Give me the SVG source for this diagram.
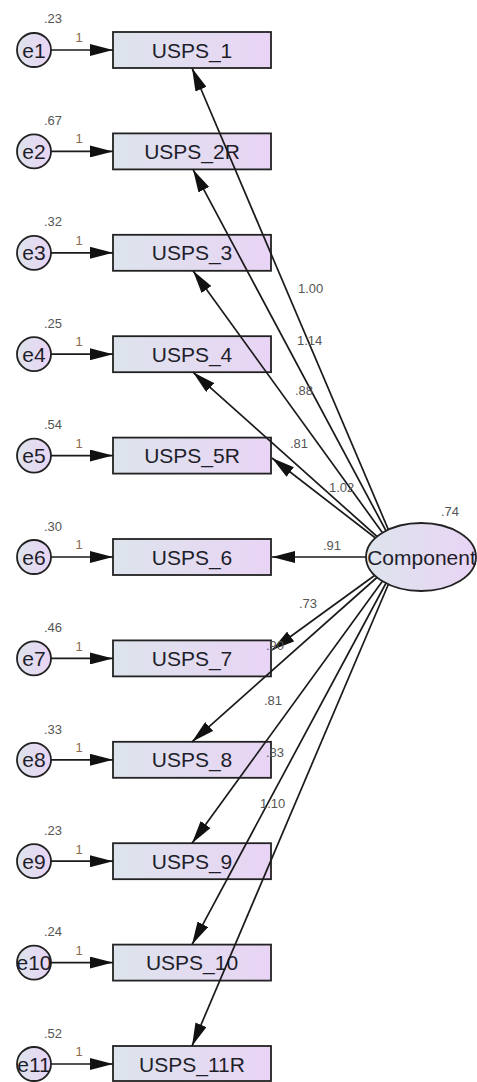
<svg xmlns="http://www.w3.org/2000/svg" width="477" height="1082" viewBox="0 0 477 1082">
<defs>
<linearGradient id="gb" x1="0" y1="0" x2="1" y2="0"><stop offset="0" stop-color="#dde4ec"/><stop offset="1" stop-color="#e9d4f5"/></linearGradient>
<marker id="ah" markerUnits="userSpaceOnUse" markerWidth="23" markerHeight="12" refX="23" refY="6" orient="auto"><path d="M0,0 L23,6 L0,12 z" fill="#111"/></marker>
</defs>
<style>
.box{fill:url(#gb);stroke:#222;stroke-width:1.8}
.err{fill:url(#gb);stroke:#222;stroke-width:1.8}
.lbl{font-family:"Liberation Sans",Arial,sans-serif;font-size:21px;fill:#1e1e2a;text-anchor:middle}
.num{font-family:"Liberation Sans",Arial,sans-serif;font-size:13px;fill:#555}
.one{font-family:"Liberation Sans",Arial,sans-serif;font-size:13px;fill:#8a6a50;text-anchor:middle}
.ln{stroke:#1a1a1a;stroke-width:1.7;fill:none;marker-end:url(#ah)}
</style>
<rect width="477" height="1082" fill="#fff"/>
<g id="e1"><circle class="err" cx="34" cy="50" r="17"/><text class="lbl" x="34" y="57.5">e1</text></g>
<g id="e2"><circle class="err" cx="34" cy="151.4" r="17"/><text class="lbl" x="34" y="158.9">e2</text></g>
<g id="e3"><circle class="err" cx="34" cy="252.8" r="17"/><text class="lbl" x="34" y="260.3">e3</text></g>
<g id="e4"><circle class="err" cx="34" cy="354.2" r="17"/><text class="lbl" x="34" y="361.7">e4</text></g>
<g id="e5"><circle class="err" cx="34" cy="455.6" r="17"/><text class="lbl" x="34" y="463.1">e5</text></g>
<g id="e6"><circle class="err" cx="34" cy="557" r="17"/><text class="lbl" x="34" y="564.5">e6</text></g>
<g id="e7"><circle class="err" cx="34" cy="658.4" r="17"/><text class="lbl" x="34" y="665.9">e7</text></g>
<g id="e8"><circle class="err" cx="34" cy="759.8" r="17"/><text class="lbl" x="34" y="767.3">e8</text></g>
<g id="e9"><circle class="err" cx="34" cy="861.2" r="17"/><text class="lbl" x="34" y="868.7">e9</text></g>
<g id="e10"><circle class="err" cx="34" cy="962.6" r="17"/><text class="lbl" x="34" y="970.1">e10</text></g>
<g id="e11"><circle class="err" cx="34" cy="1064" r="17"/><text class="lbl" x="34" y="1071.5">e11</text></g>
<g id="USPS_1"><rect class="box" x="113" y="32" width="158" height="36"/><text class="lbl" x="192" y="57.5">USPS_1</text></g>
<g id="USPS_2R"><rect class="box" x="113" y="133.4" width="158" height="36"/><text class="lbl" x="192" y="158.9">USPS_2R</text></g>
<g id="USPS_3"><rect class="box" x="113" y="234.8" width="158" height="36"/><text class="lbl" x="192" y="260.3">USPS_3</text></g>
<g id="USPS_4"><rect class="box" x="113" y="336.2" width="158" height="36"/><text class="lbl" x="192" y="361.7">USPS_4</text></g>
<g id="USPS_5R"><rect class="box" x="113" y="437.6" width="158" height="36"/><text class="lbl" x="192" y="463.1">USPS_5R</text></g>
<g id="USPS_6"><rect class="box" x="113" y="539" width="158" height="36"/><text class="lbl" x="192" y="564.5">USPS_6</text></g>
<g id="USPS_7"><rect class="box" x="113" y="640.4" width="158" height="36"/><text class="lbl" x="192" y="665.9">USPS_7</text></g>
<g id="USPS_8"><rect class="box" x="113" y="741.8" width="158" height="36"/><text class="lbl" x="192" y="767.3">USPS_8</text></g>
<g id="USPS_9"><rect class="box" x="113" y="843.2" width="158" height="36"/><text class="lbl" x="192" y="868.7">USPS_9</text></g>
<g id="USPS_10"><rect class="box" x="113" y="944.6" width="158" height="36"/><text class="lbl" x="192" y="970.1">USPS_10</text></g>
<g id="USPS_11R"><rect class="box" x="113" y="1046" width="158" height="35"/><text class="lbl" x="192" y="1071.5">USPS_11R</text></g>
<g id="connectors">
<line class="ln" x1="51" y1="50" x2="113" y2="50"/>
<line class="ln" x1="51" y1="151.4" x2="113" y2="151.4"/>
<line class="ln" x1="51" y1="252.8" x2="113" y2="252.8"/>
<line class="ln" x1="51" y1="354.2" x2="113" y2="354.2"/>
<line class="ln" x1="51" y1="455.6" x2="113" y2="455.6"/>
<line class="ln" x1="51" y1="557" x2="113" y2="557"/>
<line class="ln" x1="51" y1="658.4" x2="113" y2="658.4"/>
<line class="ln" x1="51" y1="759.8" x2="113" y2="759.8"/>
<line class="ln" x1="51" y1="861.2" x2="113" y2="861.2"/>
<line class="ln" x1="51" y1="962.6" x2="113" y2="962.6"/>
<line class="ln" x1="51" y1="1064" x2="113" y2="1064"/>
<line class="ln" x1="400" y1="557" x2="192" y2="68"/>
<line class="ln" x1="400" y1="557" x2="193" y2="169.4"/>
<line class="ln" x1="400" y1="557" x2="193" y2="270.8"/>
<line class="ln" x1="400" y1="557" x2="193" y2="372.2"/>
<line class="ln" x1="400" y1="557" x2="272" y2="458"/>
<line class="ln" x1="400" y1="557" x2="272" y2="557"/>
<line class="ln" x1="400" y1="557" x2="272" y2="650"/>
<line class="ln" x1="400" y1="557" x2="192" y2="741.8"/>
<line class="ln" x1="400" y1="557" x2="192" y2="843.2"/>
<line class="ln" x1="400" y1="557" x2="192" y2="944.6"/>
<line class="ln" x1="400" y1="557" x2="192" y2="1046"/>
</g>
<g id="Component"><ellipse cx="421" cy="557" rx="55" ry="34" fill="url(#gb)" stroke="#222" stroke-width="1.8"/><text class="lbl" x="421.5" y="564.5">Component</text></g>
<g id="labels">
<text class="num" x="44" y="23">.23</text><text class="one" x="79" y="42">1</text>
<text class="num" x="44" y="125">.67</text><text class="one" x="79" y="143">1</text>
<text class="num" x="44" y="226">.32</text><text class="one" x="79" y="245">1</text>
<text class="num" x="44" y="328">.25</text><text class="one" x="79" y="346">1</text>
<text class="num" x="44" y="429">.54</text><text class="one" x="79" y="448">1</text>
<text class="num" x="44" y="531">.30</text><text class="one" x="79" y="549">1</text>
<text class="num" x="44" y="632">.46</text><text class="one" x="79" y="651">1</text>
<text class="num" x="44" y="734">.33</text><text class="one" x="79" y="752">1</text>
<text class="num" x="44" y="835">.23</text><text class="one" x="79" y="854">1</text>
<text class="num" x="44" y="936">.24</text><text class="one" x="79" y="955">1</text>
<text class="num" x="44" y="1038">.52</text><text class="one" x="79" y="1056">1</text>
<text class="num" x="298" y="293">1.00</text>
<text class="num" x="297" y="345">1.14</text>
<text class="num" x="295" y="395">.88</text>
<text class="num" x="290" y="448">.81</text>
<text class="num" x="329" y="492">1.02</text>
<text class="num" x="323" y="550">.91</text>
<text class="num" x="441" y="516">.74</text>
<text class="num" x="299" y="608">.73</text>
<text class="num" x="266" y="650">.90</text>
<text class="num" x="264" y="705">.81</text>
<text class="num" x="266" y="757">.83</text>
<text class="num" x="260" y="808">1.10</text>
</g>
</svg>
